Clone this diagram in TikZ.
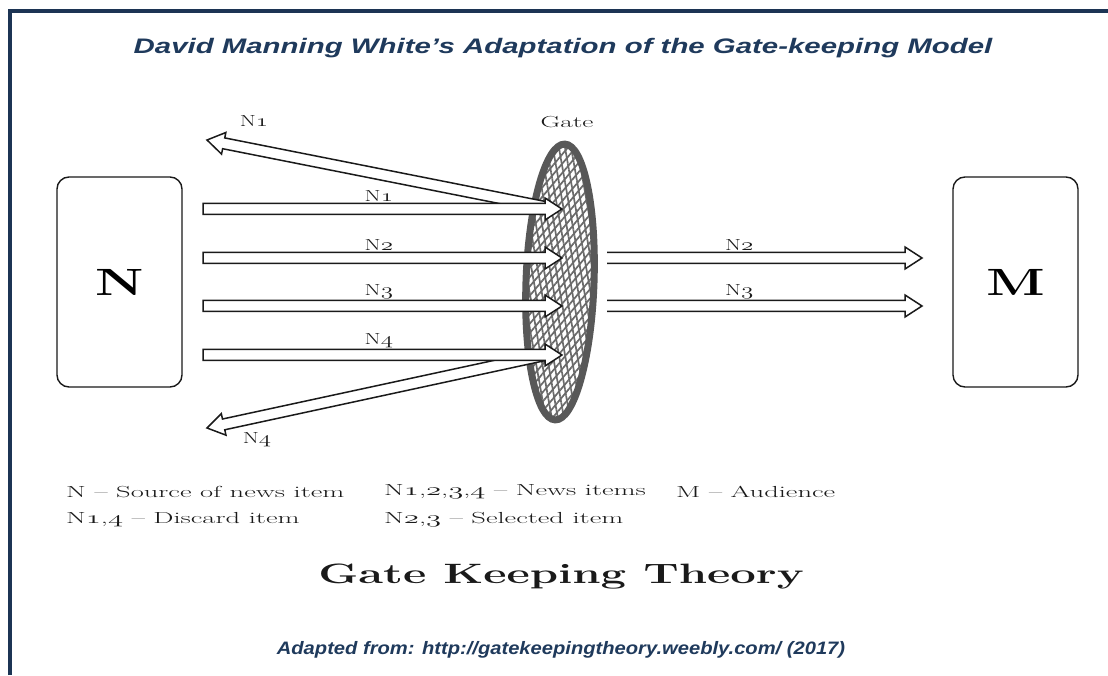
\documentclass[tikz,border=0pt]{standalone}
\usepackage{fontspec}
\usepackage{tikz}
\usetikzlibrary{calc,shapes.geometric,patterns.meta}
\newfontfamily\headfont{Liberation Sans}
\definecolor{navy}{HTML}{1F3A5C}
\definecolor{framec}{HTML}{1C3454}
\definecolor{gateedge}{HTML}{585858}
\definecolor{mesh}{HTML}{6A6A6A}
\definecolor{ink}{HTML}{1A1A1A}
\newcommand\wtext[2][1.6]{\scalebox{#1}[1]{#2}}
% old style figures from the math italic font
\newcommand\os[1]{{\fontencoding{OML}\fontfamily{cmm}\fontseries{m}\fontshape{it}\selectfont #1}}
\tikzset{
  holder/.style={draw=ink, line width=1.4pt, rounded corners=12pt, minimum width=125pt,
                 minimum height=210pt, inner sep=0pt, font=\bfseries\fontsize{38}{38}\selectfont},
  gate/.style={ellipse, draw=gateedge, line width=7pt, minimum width=68pt, minimum height=276pt,
               inner sep=0pt, rotate=-2, preaction={fill=white},
               preaction={pattern={Lines[angle=50,distance=6pt,line width=1.7pt]}, pattern color=mesh},
               pattern={Lines[angle=100,distance=6pt,line width=1.7pt]}, pattern color=mesh},
  arrowbody/.style={draw=ink, fill=white, line width=1.5pt, line join=miter},
  lab/.style={font=\fontsize{16}{16}\selectfont, text=ink, inner sep=1pt},
  key/.style={font=\fontsize{16}{16}\selectfont, text=ink, anchor=west, inner sep=0pt},
}
% hollow block arrow from #2 to the tip #3; #1 closes the tail
\newcommand\blockarrow[3][-- cycle]{%
  \path[arrowbody] let \p1=(#2), \p2=(#3),
    \n1={atan2(\y2-\y1,\x2-\x1)}, \n2={veclen(\x2-\x1,\y2-\y1)} in
    [shift={(\p1)}, rotate=\n1]
    (0,5.5) -- (\n2-17,5.5) -- (\n2-17,11) -- (\n2,0) -- (\n2-17,-11)
    -- (\n2-17,-5.5) -- (0,-5.5) #1;}

\begin{document}
\begin{tikzpicture}[x=1pt, y=1pt]
  \useasboundingbox (0,0) rectangle (1108,675);
  \fill[white] (0,0) rectangle (1108,675);
  \draw[framec, line width=3.5pt] (10,0) -- (10,664) -- (1108,664);

  \node[font=\headfont\bfseries\itshape\fontsize{21}{21}\selectfont, text=navy] (title)
    at (563,627) {\wtext[1.4]{David Manning White’s Adaptation of the Gate-keeping Model}};

  \node[holder] (source) at (119.5,393) {\wtext[1.45]{N}};
  \node[holder] (audience) at (1015.5,393) {\wtext[1.45]{M}};
  \node[gate] (gate) at (560,393) {};
  \node[lab] (gatelab) at (567,553) {\wtext[1.7]{Gate}};

  % discarded items
  \coordinate (d1s) at (545,468);
  \coordinate (d1e) at (207,535);
  \coordinate (d4s) at (545,320);
  \coordinate (d4e) at (207,247);
  \blockarrow{d1s}{d1e}
  \blockarrow{d4s}{d4e}
  \node[lab] (d1lab) at (254,554) {\wtext[1.45]{N\os{1}}};
  \node[lab] (d4lab) at (257,235) {\wtext[1.45]{N\os{4}}};

  % items reaching the gate
  \foreach \i/\y in {1/466,2/417,3/369,4/320}{
    \coordinate (in\i) at (203,\y);
    \coordinate (hit\i) at (562,\y);
    \blockarrow{in\i}{hit\i}
    \node[lab, anchor=south] (in\i lab) at ($(in\i)!0.49!(hit\i)+(0,6)$) {\wtext[1.45]{N\os{\i}}};
  }

  % selected items
  \foreach \i/\y in {2/417,3/369}{
    \coordinate (out\i) at (607,\y);
    \coordinate (to\i) at (922,\y);
    \blockarrow[]{out\i}{to\i}
    \node[lab, anchor=south] (out\i lab) at ($(out\i)!0.42!(to\i)+(0,6)$) {\wtext[1.45]{N\os{\i}}};
  }

  \node[key] (k1) at (66,183) {\wtext[1.78]{N – Source of news item}};
  \node[key] (k2) at (384,183) {\wtext[1.78]{N\os{1},\os{2},\os{3},\os{4} – News items}};
  \node[key] (k3) at (676,183) {\wtext[1.78]{M – Audience}};
  \node[key] (k4) at (66,155) {\wtext[1.78]{N\os{1},\os{4} – Discard item}};
  \node[key] (k5) at (384,155) {\wtext[1.78]{N\os{2},\os{3} – Selected item}};

  \node[font=\bfseries\fontsize{28}{28}\selectfont, text=ink] (theory) at (561,98)
    {\wtext[1.62]{Gate Keeping Theory}};
  \node[font=\headfont\bfseries\itshape\fontsize{18}{18}\selectfont, text=navy] (source note)
    at (561,25) {\wtext[1.12]{Adapted from: http://gatekeepingtheory.weebly.com/ (2017)}};
\end{tikzpicture}
\end{document}
